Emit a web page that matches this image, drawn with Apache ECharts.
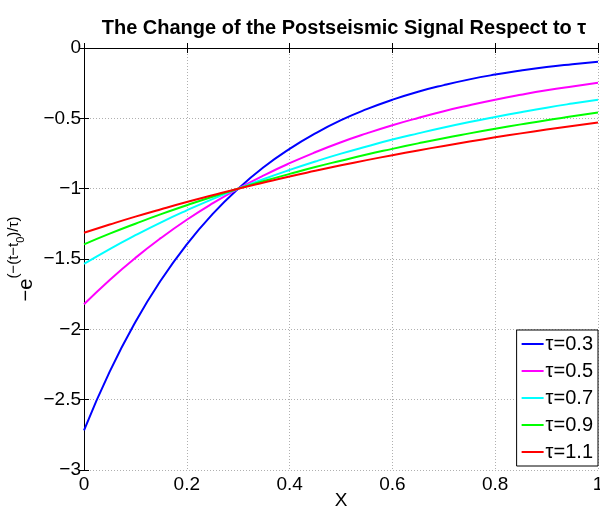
<!DOCTYPE html>
<html>
<head>
<meta charset="utf-8">
<script src="https://cdn.jsdelivr.net/npm/echarts@6/dist/echarts.min.js"></script>
<style>
  html, body { margin: 0; padding: 0; background: #fff; }
  #chart { width: 600px; height: 508px; }
</style>
</head>
<body>
<div id="chart"></div>
<script>
// Sample positions along X (read every 0.05)
const xs = [0, 0.05, 0.1, 0.15, 0.2, 0.25, 0.3, 0.35, 0.4, 0.45, 0.5,
            0.55, 0.6, 0.65, 0.7, 0.75, 0.8, 0.85, 0.9, 0.95, 1];

// Curve values
const tau03 = [-2.718, -2.301, -1.948, -1.649, -1.396, -1.181, -1, -0.846, -0.717, -0.607, -0.513,
               -0.435, -0.368, -0.311, -0.264, -0.223, -0.189, -0.160, -0.135, -0.115, -0.097];
const tau05 = [-1.822, -1.649, -1.492, -1.350, -1.221, -1.105, -1, -0.905, -0.819, -0.741, -0.670,
               -0.607, -0.549, -0.497, -0.449, -0.407, -0.368, -0.333, -0.301, -0.273, -0.247];
const tau07 = [-1.535, -1.429, -1.331, -1.239, -1.154, -1.074, -1, -0.931, -0.867, -0.807, -0.751,
               -0.700, -0.651, -0.607, -0.565, -0.526, -0.490, -0.456, -0.424, -0.395, -0.368];
const tau09 = [-1.396, -1.320, -1.249, -1.181, -1.118, -1.057, -1, -0.946, -0.895, -0.846, -0.801,
               -0.757, -0.717, -0.678, -0.641, -0.607, -0.574, -0.543, -0.513, -0.486, -0.459];
const tau11 = [-1.313, -1.255, -1.199, -1.146, -1.095, -1.047, -1, -0.956, -0.913, -0.873, -0.834,
               -0.797, -0.762, -0.728, -0.696, -0.665, -0.635, -0.607, -0.580, -0.554, -0.530];

const seriesNames = ['τ=0.3', 'τ=0.5', 'τ=0.7', 'τ=0.9', 'τ=1.1'];
const seriesData = [tau03, tau05, tau07, tau09, tau11];
const colors = ['#0000ff', '#ff00ff', '#00ffff', '#00ff00', '#ff0000'];

const font = 'Liberation Sans, Arial, Helvetica, sans-serif';
const minus = v => String(v).replace('-', '−');

const chart = echarts.init(document.getElementById('chart'));

const gridLine = { show: true, lineStyle: { color: '#b0b0b0', type: [1, 2], width: 1 } };
const blackLine = { show: true, lineStyle: { color: '#000', width: 1 } };
const innerTick = { show: true, inside: true, length: 5, lineStyle: { color: '#000' } };

chart.setOption({
    animation: false,
    title: {
        text: 'The Change of the Postseismic Signal Respect to τ',
        left: 339, top: 13, textAlign: 'center',
        textStyle: { fontFamily: font, fontSize: 20, fontWeight: 'bold', color: '#000' }
    },
    grid: { left: 84, right: 2, top: 48, bottom: 38, containLabel: false, outerBoundsMode: 'none' },
    legend: {
        data: seriesNames,
        orient: 'vertical',
        right: 2, bottom: 42,
        icon: 'rect',
        itemWidth: 22, itemHeight: 2, itemGap: 7,
        padding: [4, 5, 4, 5],
        borderColor: '#000', borderWidth: 1, backgroundColor: '#fff',
        textStyle: { fontFamily: font, fontSize: 20, color: '#000', padding: [0, 0, 0, -3] }
    },
    xAxis: [{
        type: 'value', min: 0, max: 1, interval: 0.2,
        name: 'X', nameLocation: 'middle', nameGap: 21, nameMoveOverlap: false,
        nameTextStyle: { fontFamily: font, fontSize: 19, color: '#000' },
        axisLine: blackLine, axisTick: innerTick, splitLine: gridLine,
        axisLabel: { fontFamily: font, fontSize: 19, color: '#000', margin: 5 }
    }, {
        type: 'value', min: 0, max: 1, interval: 0.2, position: 'top',
        axisLine: blackLine, axisTick: innerTick, splitLine: { show: false },
        axisLabel: { show: false }
    }],
    yAxis: [{
        type: 'value', min: -3, max: 0, interval: 0.5,
        name: '{b|−e}{sup|(−(t−t}{sub|0}{sup|)/τ)}',
        nameLocation: 'middle', nameRotate: 90, nameGap: 48, nameMoveOverlap: false,
        nameTextStyle: {
            fontFamily: font, color: '#000',
            rich: {
                b: { fontFamily: font, fontSize: 20, verticalAlign: 'bottom', lineHeight: 30 },
                sup: { fontFamily: font, fontSize: 15, verticalAlign: 'top', lineHeight: 30 },
                sub: { fontFamily: font, fontSize: 11, verticalAlign: 'middle', lineHeight: 30 }
            }
        },
        axisLine: blackLine, axisTick: innerTick, splitLine: gridLine,
        axisLabel: { fontFamily: font, fontSize: 19, color: '#000', margin: 3, formatter: minus }
    }, {
        type: 'value', min: -3, max: 0, interval: 0.5, position: 'right',
        axisLine: blackLine, axisTick: innerTick, splitLine: { show: false },
        axisLabel: { show: false }
    }],
    series: seriesData.map((vals, i) => ({
        name: seriesNames[i],
        type: 'line',
        smooth: true,
        showSymbol: false,
        data: xs.map((x, j) => [x, vals[j]]),
        lineStyle: { color: colors[i], width: 2 },
        itemStyle: { color: colors[i] }
    }))
});
</script>
</body>
</html>
